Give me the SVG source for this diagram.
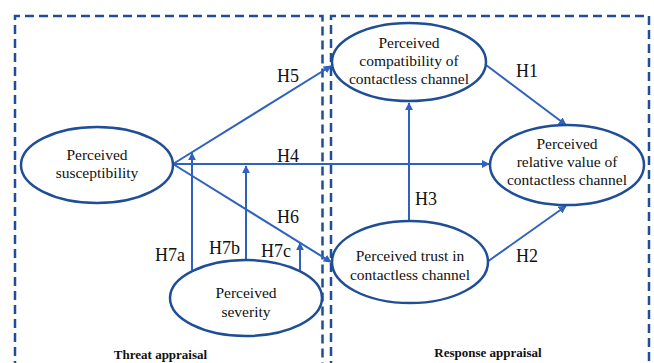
<svg xmlns="http://www.w3.org/2000/svg" width="654" height="363" viewBox="0 0 654 363">
<defs>
<style>
.box{fill:none;stroke:#1f4e96;stroke-width:2.5;stroke-dasharray:9 5}
.node ellipse{fill:#fff;stroke:#1f4e96;stroke-width:2.5}
.node text{font-family:"Liberation Serif","Times New Roman",serif;font-size:15.5px;fill:#111;text-anchor:middle}
.edge{fill:none;stroke:#2f62c0;stroke-width:2;marker-end:url(#ah)}
.lbl{font-family:"Liberation Serif","Times New Roman",serif;font-size:18px;fill:#111}
.cap{font-family:"Liberation Serif","Times New Roman",serif;font-size:13px;font-weight:bold;fill:#111;text-anchor:middle}
</style>
<marker id="ah" viewBox="0 0 10 10" refX="9" refY="5" markerWidth="8" markerHeight="8" markerUnits="userSpaceOnUse" orient="auto">
<path d="M0,0 L10,5 L0,10 z" fill="#2f62c0"/>
</marker>
</defs>
<rect width="654" height="363" fill="#fff"/>
<g id="boxes">
<path class="box" d="M15,370 V16 H322.5 V370"/>
<path class="box" d="M331,370 V16 H649 V370"/>
<text class="cap" x="160.5" y="359">Threat appraisal</text>
<text class="cap" x="488" y="357">Response appraisal</text>
</g>
<g id="connectors">
<line class="edge" x1="173" y1="164" x2="331" y2="66"/>
<line class="edge" x1="173" y1="164" x2="489" y2="164"/>
<line class="edge" x1="173" y1="164" x2="331" y2="262"/>
<line class="edge" x1="486" y1="65" x2="566" y2="125"/>
<line class="edge" x1="487" y1="262" x2="566" y2="206"/>
<line class="edge" x1="409" y1="223" x2="409" y2="103"/>
<line class="edge" x1="192" y1="270" x2="192" y2="153"/>
<line class="edge" x1="246" y1="260" x2="246" y2="166"/>
<line class="edge" x1="300" y1="270" x2="300" y2="243"/>
<text class="lbl" x="277" y="82">H5</text>
<text class="lbl" x="277" y="162">H4</text>
<text class="lbl" x="277" y="223">H6</text>
<text class="lbl" x="155" y="261">H7a</text>
<text class="lbl" x="209" y="254">H7b</text>
<text class="lbl" x="261" y="257">H7c</text>
<text class="lbl" x="516" y="77">H1</text>
<text class="lbl" x="415" y="205">H3</text>
<text class="lbl" x="516" y="262">H2</text>
</g>
<g id="susceptibility" class="node">
<ellipse cx="97" cy="165" rx="76" ry="38"/>
<text x="97" y="160">Perceived</text>
<text x="97" y="178">susceptibility</text>
</g>
<g id="compatibility" class="node">
<ellipse cx="409" cy="62" rx="77" ry="39"/>
<text x="409" y="48">Perceived</text>
<text x="409" y="66">compatibility of</text>
<text x="409" y="84">contactless channel</text>
</g>
<g id="relative_value" class="node">
<ellipse cx="567" cy="165" rx="77" ry="40"/>
<text x="567" y="149">Perceived</text>
<text x="567" y="167">relative value of</text>
<text x="567" y="185">contactless channel</text>
</g>
<g id="trust" class="node">
<ellipse cx="410" cy="262" rx="78" ry="41"/>
<text x="410" y="261">Perceived trust in</text>
<text x="410" y="280">contactless channel</text>
</g>
<g id="severity" class="node">
<ellipse cx="246" cy="298" rx="76" ry="38"/>
<text x="246" y="298">Perceived</text>
<text x="246" y="317">severity</text>
</g>
</svg>
